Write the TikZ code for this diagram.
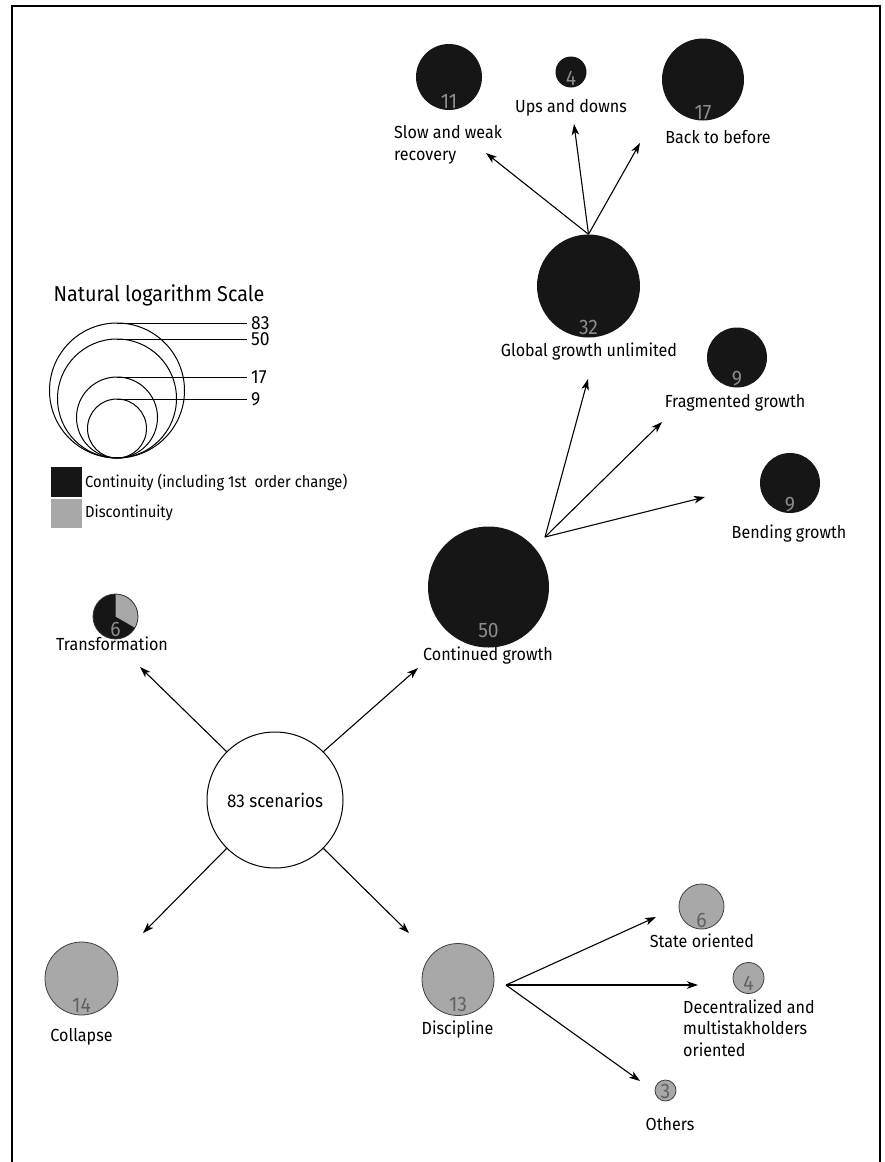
\documentclass[tikz,border=0pt]{standalone}
\usepackage{fontspec}
\setmainfont{Fira Sans}[FakeStretch=0.92]
\usetikzlibrary{arrows,arrows.meta,positioning}
\definecolor{contblack}{RGB}{22,22,22}
\definecolor{discgray}{RGB}{168,168,168}

\begin{document}
\begin{tikzpicture}[x=1pt, y=-1pt, >={Stealth[length=11pt, width=7.5pt, inset=3pt]}]
    \tikzstyle{cont}  = [circle, fill=contblack, inner sep=0pt]
    \tikzstyle{disc}  = [circle, fill=discgray, draw=black!75, line width=0.8pt, inner sep=0pt]
    \tikzstyle{numc}  = [text=black!45, font=\fontsize{21}{21}\selectfont, inner sep=0pt, anchor=base]
    \tikzstyle{numd}  = [numc, text=black!62]
    \tikzstyle{lbl}   = [font=\fontsize{17.5}{21.5}\selectfont, inner sep=0pt]
    \tikzstyle{arrow} = [line width=1.1pt, ->]

    \useasboundingbox (0,0) rectangle (884,1162);
    \draw [line width=2.5pt] (12,1162) -- (12,6) -- (880,6) -- (880,1162);

    % legend
    \node [font=\fontsize{21.5}{21.5}\selectfont, inner sep=0pt] (lgtitle) at (159,295) {Natural logarithm Scale};
    \foreach \r/\n in {67.5/83, 59.5/50, 40.5/17, 29.5/9} {
        \draw [line width=1pt] (117,458-\r) circle [radius=\r pt];
        \draw [line width=1pt] (117,458-2*\r) -- (247,458-2*\r);
        \node [font=\fontsize{19}{19}\selectfont, anchor=west, inner sep=0pt] at (251,458-2*\r) {\n};
    }
    \fill [contblack] (51,467) rectangle (82,497);
    \fill [discgray] (51,499) rectangle (82,528);
    \node [font=\fontsize{16}{18}\selectfont, anchor=west, inner sep=0pt] (lgcont) at (85,482) {Continuity (including 1st~ order change)};
    \node [font=\fontsize{16}{18}\selectfont, anchor=west, inner sep=0pt] (lgdisc) at (85,513) {Discontinuity};

    % root
    \node [circle, draw, line width=1pt, minimum size=136pt, inner sep=0pt, font=\fontsize{18.5}{18.5}\selectfont] (root) at (275,800) {83 scenarios};

    % transformation
    \node [cont, minimum size=45pt] (tr) at (115.5,616.5) {};
    \fill [discgray] (tr.center) -- ++(90:22.5pt) arc [start angle=90, end angle=-30, radius=22.5pt] -- cycle;
    \draw [line width=0.8pt, black!80] (tr.center) circle [radius=22.5pt];
    \node [numc] (trn) at ([yshift=3pt]tr.south) {6};
    \node [lbl] (trl) at (112,644) {Transformation};

    % continued growth
    \node [cont, minimum size=121pt] (cg) at (488.5,587) {};
    \node [numc] (cgn) at ([yshift=10pt]cg.south) {50};
    \node [lbl] (cgl) at (488,656) {Continued growth};

    \node [cont, minimum size=103pt] (gg) at (588.5,286) {};
    \node [numc] (ggn) at ([yshift=3pt]gg.south) {32};
    \node [lbl] (ggl) at (589,352) {Global growth unlimited};

    \node [cont, minimum size=60pt] (fg) at (737,357.5) {};
    \node [numc] (fgn) at ([yshift=2pt]fg.south) {9};
    \node [lbl] (fgl) at (735,403) {Fragmented growth};

    \node [cont, minimum size=60pt] (bg) at (790,483) {};
    \node [numc] (bgn) at ([yshift=2pt]bg.south) {9};
    \node [lbl] (bgl) at (789,534) {Bending growth};

    % global growth outcomes
    \node [cont, minimum size=66pt] (sw) at (449,77) {};
    \node [numc] (swn) at ([yshift=2pt]sw.south) {11};
    \node [lbl, align=left, anchor=west] (swl) at (394,145) {Slow and weak\\recovery};

    \node [cont, minimum size=31pt] (ud) at (571,72) {};
    \node [numc] (udn) at ([yshift=2pt]ud.south) {4};
    \node [lbl] (udl) at (571,108) {Ups and downs};

    \node [cont, minimum size=82pt] (bb) at (703,79.5) {};
    \node [numc] (bbn) at ([yshift=1pt]bb.south) {17};
    \node [lbl] (bbl) at (718,137) {Back to before};

    % collapse and discipline
    \node [disc, minimum size=73pt] (col) at (81.5,978.5) {};
    \node [numd] (coln) at ([yshift=3pt]col.south) {14};
    \node [lbl] (coll) at (81.5,1037) {Collapse};

    \node [disc, minimum size=72pt] (dis) at (458,979.5) {};
    \node [numd] (disn) at ([yshift=4pt]dis.south) {13};
    \node [lbl] (disl) at (457.5,1030) {Discipline};

    \node [disc, minimum size=45pt] (so) at (701.5,906.5) {};
    \node [numd] (son) at ([yshift=2pt]so.south) {6};
    \node [lbl] (sol) at (702,941) {State oriented};

    \node [disc, minimum size=31pt] (dm) at (748.5,978) {};
    \node [numd] (dmn) at ([yshift=3pt]dm.south) {4};
    \node [lbl, align=left, anchor=west] (dml) at (683,1028) {Decentralized and\\multistakholders\\oriented};

    \node [disc, minimum size=21pt] (ot) at (665.5,1090.5) {};
    \node [numd] (otn) at ([yshift=3pt]ot.south) {3};
    \node [lbl] (otl) at (670,1124) {Others};

    % arrow ends
    \coordinate (cgfrom) at (545,537);
    \coordinate (disfrom) at (506,985);
    \coordinate (totr) at (140,667);
    \coordinate (tocg) at (418,668);
    \coordinate (tocol) at (143,933);
    \coordinate (todis) at (409,933);
    \coordinate (togg) at (588,379);
    \coordinate (tofg) at (662,422);
    \coordinate (tobg) at (705,497);
    \coordinate (tosw) at (486,153);
    \coordinate (toud) at (574,124);
    \coordinate (tobb) at (640,143);
    \coordinate (toso) at (656,917);
    \coordinate (todm) at (698,985);
    \coordinate (toot) at (640,1081);

    \draw [arrow] (root.north west) -- (totr);
    \draw [arrow] (root.north east) -- (tocg);
    \draw [arrow] (root.south west) -- (tocol);
    \draw [arrow] (root.south east) -- (todis);

    \draw [arrow] (cgfrom) -- (togg);
    \draw [arrow] (cgfrom) -- (tofg);
    \draw [arrow] (cgfrom) -- (tobg);

    \draw [arrow] (gg.north) -- (tosw);
    \draw [arrow] (gg.north) -- (toud);
    \draw [arrow] (gg.north) -- (tobb);

    \draw [arrow] (disfrom) -- (toso);
    \draw [arrow] (disfrom) -- (todm);
    \draw [arrow] (disfrom) -- (toot);
\end{tikzpicture}
\end{document}
